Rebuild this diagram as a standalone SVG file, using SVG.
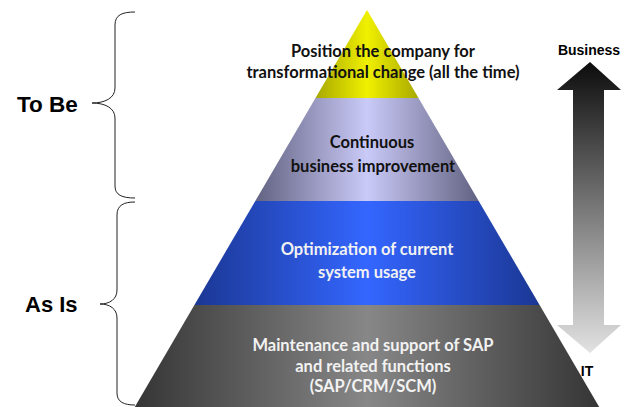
<svg xmlns="http://www.w3.org/2000/svg" width="630" height="407" viewBox="0 0 630 407">
  <style>
    .pt { font-family: Lato, "Open Sans", "Liberation Sans", sans-serif; font-weight: bold; font-size: 16.5px; text-anchor: middle; }
    .dark { fill: #111; }
    .light { fill: #f2f2f2; }
    .lbl { font-family: "Liberation Sans", Arial, sans-serif; font-weight: bold; fill: #000; }
    .brace { fill: none; stroke: #222; stroke-width: 1; }
  </style>
  <defs>
    <linearGradient id="gY" x1="0" y1="0" x2="1" y2="0">
      <stop offset="0" stop-color="#a8a800"/>
      <stop offset="0.5" stop-color="#f0f000"/>
      <stop offset="1" stop-color="#a8a800"/>
    </linearGradient>
    <linearGradient id="gL" x1="0" y1="0" x2="1" y2="0">
      <stop offset="0" stop-color="#626282"/>
      <stop offset="0.5" stop-color="#cacaf8"/>
      <stop offset="1" stop-color="#626282"/>
    </linearGradient>
    <linearGradient id="gB" x1="0" y1="0" x2="1" y2="0">
      <stop offset="0" stop-color="#1b3794"/>
      <stop offset="0.5" stop-color="#3466ff"/>
      <stop offset="1" stop-color="#1b3794"/>
    </linearGradient>
    <linearGradient id="gG" x1="0" y1="0" x2="1" y2="0">
      <stop offset="0" stop-color="#353535"/>
      <stop offset="0.5" stop-color="#878787"/>
      <stop offset="1" stop-color="#353535"/>
    </linearGradient>
    <linearGradient id="gA" x1="0" y1="0" x2="0" y2="1">
      <stop offset="0" stop-color="#0c0c0c"/>
      <stop offset="1" stop-color="#e2e2e2"/>
    </linearGradient>
  </defs>
  <rect width="630" height="407" fill="#fff"/>

  <g id="layer-position">
    <polygon points="367,10 418.5,98 315.5,98" fill="url(#gY)"/>
    <text class="pt dark" x="383" y="57">Position the company for</text>
    <text class="pt dark" x="383" y="78">transformational change (all the time)</text>
  </g>
  <g id="layer-continuous">
    <polygon points="315.5,98 418.5,98 478.7,201 255.3,201" fill="url(#gL)"/>
    <text class="pt dark" x="372" y="148">Continuous</text>
    <text class="pt dark" x="373" y="172">business improvement</text>
  </g>
  <g id="layer-optimization">
    <polygon points="255.3,201 478.7,201 539.6,305 194.4,305" fill="url(#gB)"/>
    <text class="pt light" x="367" y="255">Optimization of current</text>
    <text class="pt light" x="367" y="278">system usage</text>
  </g>
  <g id="layer-maintenance">
    <polygon points="194.4,305 539.6,305 599.2,407 134.8,407" fill="url(#gG)"/>
    <text class="pt light" x="373" y="351">Maintenance and support of SAP</text>
    <text class="pt light" x="373" y="372">and related functions</text>
    <text class="pt light" x="373" y="392">(SAP/CRM/SCM)</text>
  </g>

  <g id="to-be">
    <path class="brace" d="M135,12 C122,12 115,15 115,25 L115,88 C115,98 105,103 92,103 C105,103 115,108 115,118 L115,186 C115,195 122,198 135,198"/>
    <text class="lbl" x="17" y="112" font-size="22.5">To Be</text>
  </g>
  <g id="as-is">
    <path class="brace" d="M135,202 C124,202 117,205 117,215 L117,290 C117,299 110,304 100,304 C110,304 117,309 117,318 L117,393 C117,402 124,405 135,405"/>
    <text class="lbl" x="25" y="312" font-size="22">As Is</text>
  </g>

  <g id="connectors">
    <g id="business-it-arrow">
      <polygon points="590,62 621,90 604,90 604,325 621,325 590,353 557,325 573,325 573,90 557,90" fill="url(#gA)"/>
      <text class="lbl" x="589" y="55" font-size="14" text-anchor="middle">Business</text>
      <text class="lbl" x="587" y="376" font-size="14" text-anchor="middle">IT</text>
    </g>
  </g>
</svg>
